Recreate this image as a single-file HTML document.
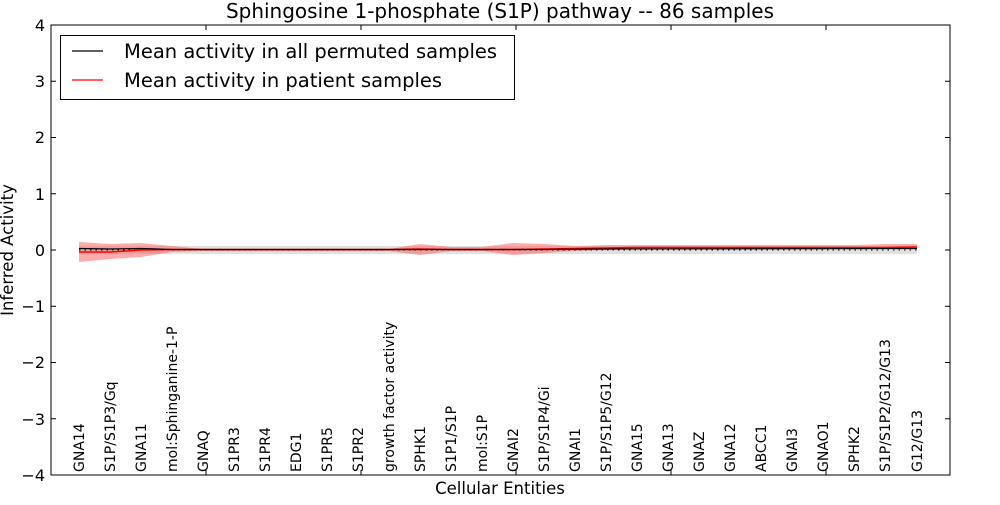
<!DOCTYPE html>
<html><head><meta charset="utf-8"><style>
body{margin:0;background:#fff;width:1000px;height:500px;overflow:hidden}
svg text{font-family:"DejaVu Sans","Liberation Sans",sans-serif;fill:#000}
</style></head><body>
<svg width="1000" height="500" viewBox="0 0 1000 500" xmlns="http://www.w3.org/2000/svg">
<rect width="1000" height="500" fill="#fff"/>
<text x="500" y="18" font-size="20" text-anchor="middle">Sphingosine 1-phosphate (S1P) pathway -- 86 samples</text>
<polygon points="79,246 917,246 917,254 79,254" fill="#d9d9d9" opacity="0.8"/>
<polygon fill="#ff6666" opacity="0.55" points="79,242 110,244 141,243 172,246 203,249 234,249 265,249 296,249 327,249 358,249 389,249 420,244 451,247 482,247 513,243 544,244 575,246 606,245 637,245 668,245 699,245 730,245 761,245 792,245 823,245 854,245 885,244 917,244 917,249 885,249 854,249 823,249 792,249 761,249 730,249 699,249 668,249 637,249 606,250 575,251 544,253 513,255 482,251 451,251 420,255 389,251 358,251 327,251 296,251 265,251 234,251 203,251 172,252 141,257 110,259 79,262"/>
<line x1="79" y1="250" x2="917" y2="250" stroke="#000" stroke-width="1" stroke-dasharray="1.5,4"/>
<polyline fill="none" stroke="#f00" stroke-width="1.5" points="79,252 110,252 141,250 172,249.5 203,249.5 389,249.5 420,249 451,249.5 513,249.5 544,249 575,248.5 606,248 637,247.5 885,247.5 917,247"/>
<polyline fill="none" stroke="#000" stroke-width="1.2" points="79,248.5 110,249 141,248.5 172,249.5 420,249.5 451,249.5 544,249.5 606,249 917,248.5"/>
<rect x="51" y="25" width="899" height="450" fill="none" stroke="#000" stroke-width="1"/>
<g stroke="#000" stroke-width="1">
<line x1="51" y1="81.25" x2="56" y2="81.25"/><line x1="945" y1="81.25" x2="950" y2="81.25"/>
<line x1="51" y1="137.5" x2="56" y2="137.5"/><line x1="945" y1="137.5" x2="950" y2="137.5"/>
<line x1="51" y1="193.75" x2="56" y2="193.75"/><line x1="945" y1="193.75" x2="950" y2="193.75"/>
<line x1="51" y1="250" x2="56" y2="250"/><line x1="945" y1="250" x2="950" y2="250"/>
<line x1="51" y1="306.25" x2="56" y2="306.25"/><line x1="945" y1="306.25" x2="950" y2="306.25"/>
<line x1="51" y1="362.5" x2="56" y2="362.5"/><line x1="945" y1="362.5" x2="950" y2="362.5"/>
<line x1="51" y1="418.75" x2="56" y2="418.75"/><line x1="945" y1="418.75" x2="950" y2="418.75"/>
<line x1="206" y1="25" x2="206" y2="30"/><line x1="206" y1="470" x2="206" y2="475"/>
<line x1="361" y1="25" x2="361" y2="30"/><line x1="361" y1="470" x2="361" y2="475"/>
<line x1="516" y1="25" x2="516" y2="30"/><line x1="516" y1="470" x2="516" y2="475"/>
<line x1="671" y1="25" x2="671" y2="30"/><line x1="671" y1="470" x2="671" y2="475"/>
<line x1="826" y1="25" x2="826" y2="30"/><line x1="826" y1="470" x2="826" y2="475"/>
</g>
<g font-size="16" text-anchor="end">
<text x="45" y="31">4</text><text x="45" y="87">3</text><text x="45" y="143">2</text><text x="45" y="200">1</text><text x="45" y="256">0</text>
<text x="45" y="312">−1</text><text x="45" y="368">−2</text><text x="45" y="425">−3</text><text x="45" y="481">−4</text>
</g>
<text x="500" y="494" font-size="16.5" text-anchor="middle">Cellular Entities</text>
<text transform="translate(13,250) rotate(-90)" font-size="16.5" text-anchor="middle">Inferred Activity</text>
<g font-size="14">
<text transform="translate(84,472) rotate(-90)">GNA14</text>
<text transform="translate(115,472) rotate(-90)">S1P/S1P3/Gq</text>
<text transform="translate(146,472) rotate(-90)">GNA11</text>
<text transform="translate(177,472) rotate(-90)">mol:Sphinganine-1-P</text>
<text transform="translate(208,472) rotate(-90)">GNAQ</text>
<text transform="translate(239,472) rotate(-90)">S1PR3</text>
<text transform="translate(270,472) rotate(-90)">S1PR4</text>
<text transform="translate(301,472) rotate(-90)">EDG1</text>
<text transform="translate(332,472) rotate(-90)">S1PR5</text>
<text transform="translate(363,472) rotate(-90)">S1PR2</text>
<text transform="translate(394,472) rotate(-90)">growth factor activity</text>
<text transform="translate(425,472) rotate(-90)">SPHK1</text>
<text transform="translate(456,472) rotate(-90)">S1P1/S1P</text>
<text transform="translate(487,472) rotate(-90)">mol:S1P</text>
<text transform="translate(518,472) rotate(-90)">GNAI2</text>
<text transform="translate(549,472) rotate(-90)">S1P/S1P4/Gi</text>
<text transform="translate(580,472) rotate(-90)">GNAI1</text>
<text transform="translate(611,472) rotate(-90)">S1P/S1P5/G12</text>
<text transform="translate(642,472) rotate(-90)">GNA15</text>
<text transform="translate(673,472) rotate(-90)">GNA13</text>
<text transform="translate(704,472) rotate(-90)">GNAZ</text>
<text transform="translate(735,472) rotate(-90)">GNA12</text>
<text transform="translate(766,472) rotate(-90)">ABCC1</text>
<text transform="translate(797,472) rotate(-90)">GNAI3</text>
<text transform="translate(828,472) rotate(-90)">GNAO1</text>
<text transform="translate(859,472) rotate(-90)">SPHK2</text>
<text transform="translate(890,472) rotate(-90)">S1P/S1P2/G12/G13</text>
<text transform="translate(922,472) rotate(-90)">G12/G13</text>
</g>
<rect x="60.5" y="35.5" width="454" height="64" fill="#fff" stroke="#000" stroke-width="1"/>
<line x1="72" y1="51" x2="103" y2="51" stroke="#000" stroke-width="1.2"/>
<line x1="72" y1="80" x2="103" y2="80" stroke="#f00" stroke-width="1.2"/>
<text x="124" y="58" font-size="19.5">Mean activity in all permuted samples</text>
<text x="124" y="87" font-size="19.5">Mean activity in patient samples</text>
</svg>
</body></html>
